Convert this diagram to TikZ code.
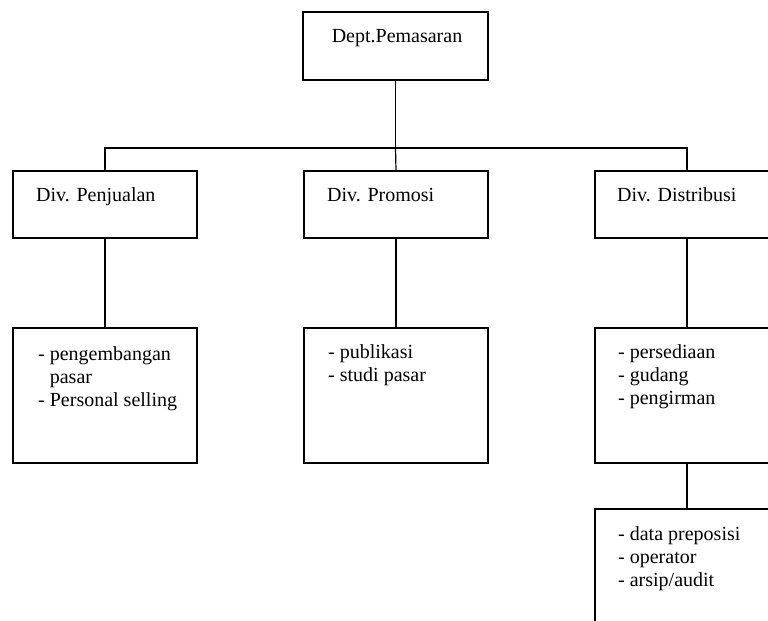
\documentclass[tikz,border=0pt]{standalone}
\usepackage{fontspec}
\setmainfont{Liberation Serif}
% a left-aligned stack of lines whose baseline is that of its first line
\newcommand\boxlines[1]{\begin{tabular}[t]{@{}l@{}}#1\end{tabular}}
\begin{document}
\begin{tikzpicture}[x=1bp,y=-1bp,
  unit/.style={draw, line width=1.4bp, minimum width=184bp, inner sep=0pt},
  head/.style={unit, minimum height=67bp},
  task/.style={unit, minimum height=135bp},
  caption/.style={inner sep=0pt, anchor=base west,
    font=\fontsize{20bp}{23bp}\selectfont},
  link/.style={line width=1.2bp}]
\clip (0,0) rectangle (768,621);
\useasboundingbox (0,0) rectangle (768,621);

% department
\node[unit, minimum width=185bp, minimum height=68bp] (dept) at (395.5,46) {};
\node[caption, anchor=base] (deptT) at (397,43) {Dept.Pemasaran};

% divisions
\node[head] (penj)  at (105,204.5) {};
\node[head] (promo) at (396,204.5) {};
\node[head] (dist)  at (687,204.5) {};
\node[caption] (penjT)  at (36,202)  {Div. Penjualan};
\node[caption] (promoT) at (327,202) {Div. Promosi};
\node[caption] (distT)  at (617,202) {Div. Distribusi};

% tasks of each division
\node[task] (penjJob)  at (105,395.5) {};
\node[task] (promoJob) at (396,395.5) {};
\node[task] (distJob)  at (687,395.5) {};
\node[task] (admin)    at (687,576.5) {};
\node[caption] (penjL) at (38,360)
  {\boxlines{- pengembangan\\\hphantom{- }pasar\\- Personal selling}};
\node[caption] (promoL) at (328,358)
  {\boxlines{- publikasi\\- studi pasar}};
\node[caption] (distL) at (618,358)
  {\boxlines{- persediaan\\- gudang\\- pengirman}};
\node[caption] (adminL) at (618,540)
  {\boxlines{- data preposisi\\- operator\\- arsip/audit}};

% connectors
\coordinate (bus) at (395.5,148);
\draw[link] (dept.south) -- (bus);
\draw[link] (penj.north) |- (bus) -| (dist.north);
\draw[link] (bus) -- (promo.north);
\draw[link] (penj.south) -- (penjJob.north);
\draw[link] (promo.south) -- (promoJob.north);
\draw[link] (dist.south) -- (distJob.north);
\draw[link] (distJob.south) -- (admin.north);
\end{tikzpicture}
\end{document}
